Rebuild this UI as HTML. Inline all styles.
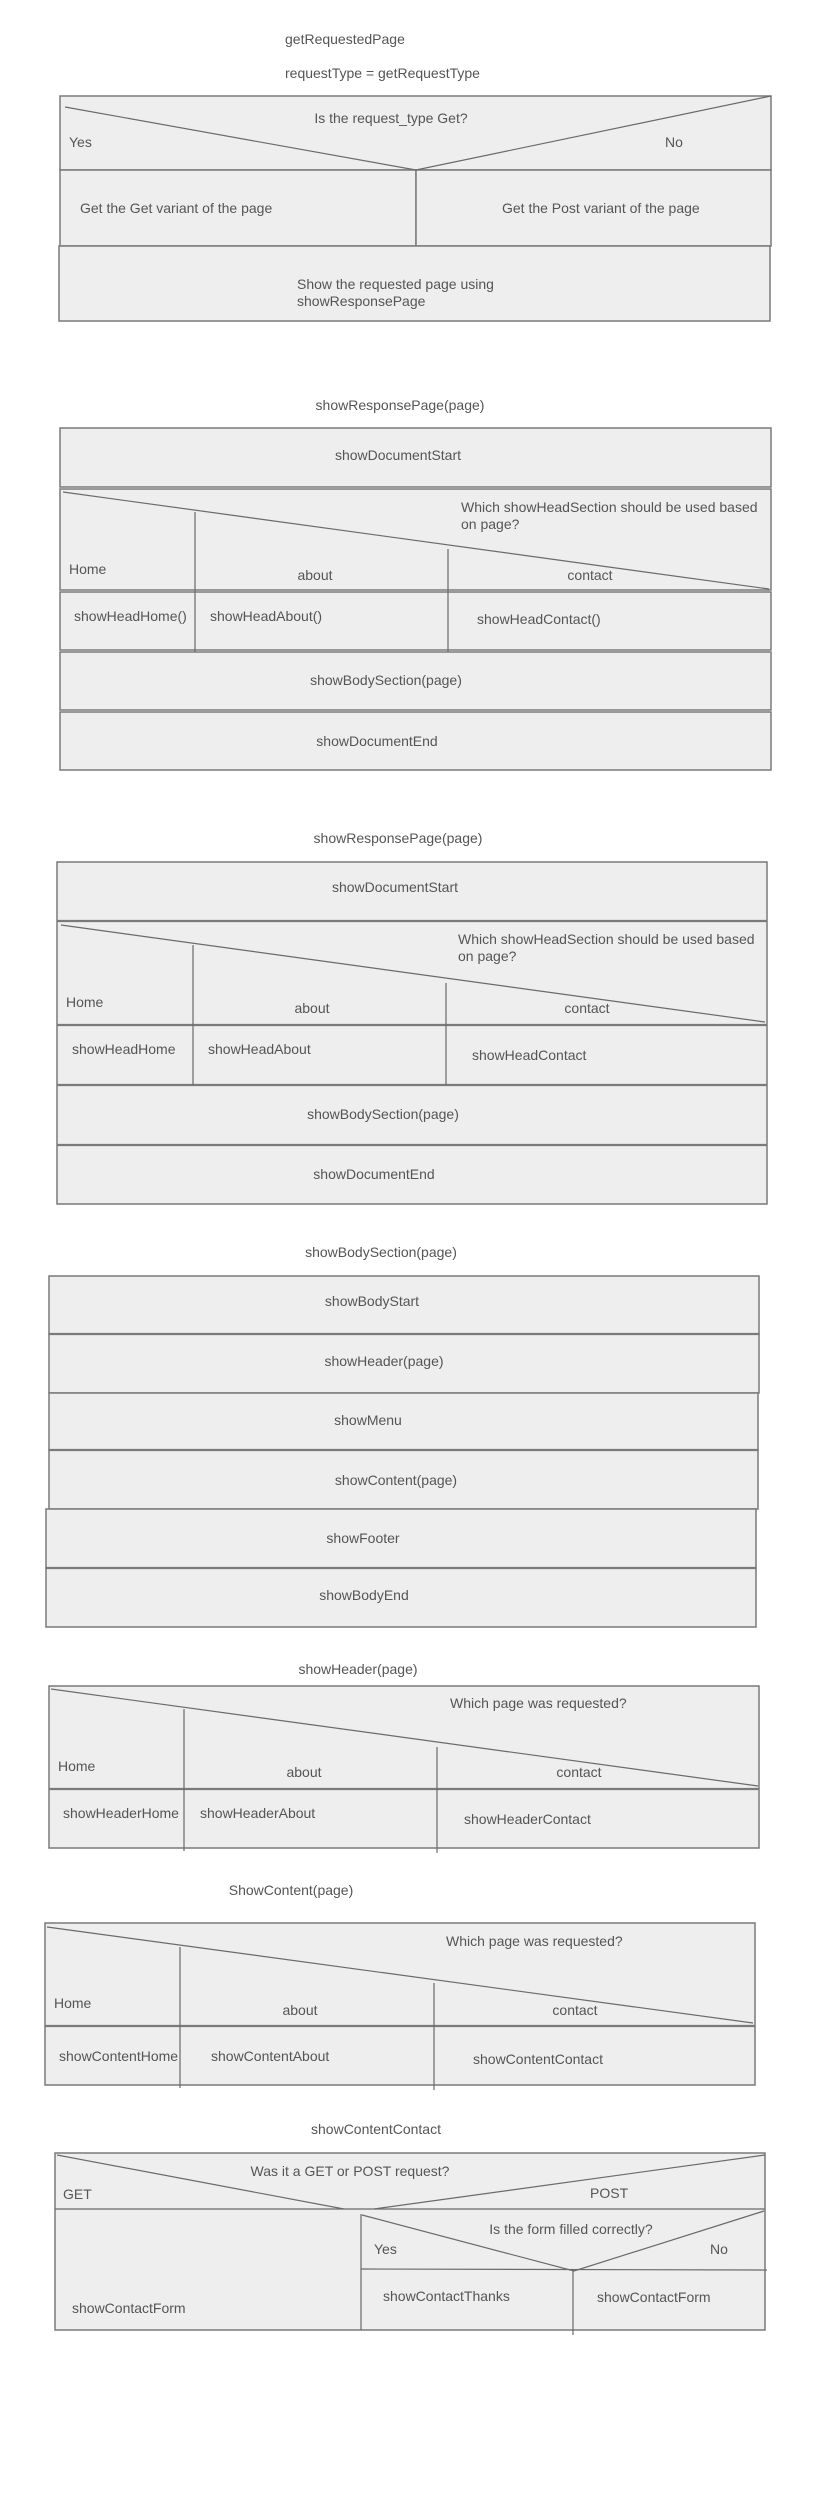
<!DOCTYPE html>
<html><head><meta charset="utf-8"><style>
html,body{margin:0;padding:0;background:#fff;}
svg{display:block;}
text{font-family:"Liberation Sans",sans-serif;font-size:14px;fill:#555;dominant-baseline:central;}
.b{fill:#eeeeee;stroke:#7a7a7a;stroke-width:1.5;}
.l{stroke:#6a6a6a;stroke-width:1.2;fill:none;}
.t{stroke:#7a7a7a;stroke-width:2.2;fill:none;}
</style></head><body>
<svg width="833" height="2500" viewBox="0 0 833 2500" xmlns="http://www.w3.org/2000/svg">
<!-- Diagram 1 -->
<text x="285" y="39">getRequestedPage</text>
<text x="285" y="73">requestType = getRequestType</text>
<rect class="b" x="60" y="96" width="711" height="74"/>
<rect class="b" x="60" y="170" width="356" height="76"/>
<rect class="b" x="416" y="170" width="355" height="76"/>
<rect class="b" x="59" y="246" width="711" height="75"/>
<polyline class="l" points="65,107 416,170 771,96"/>
<text x="391" y="118" text-anchor="middle">Is the request_type Get?</text>
<text x="69" y="142">Yes</text>
<text x="665" y="142">No</text>
<text x="80" y="208">Get the Get variant of the page</text>
<text x="502" y="208">Get the Post variant of the page</text>
<text x="297" y="284">Show the requested page using</text>
<text x="297" y="301">showResponsePage</text>

<!-- Diagram 2 -->
<text x="400" y="405" text-anchor="middle">showResponsePage(page)</text>
<rect class="b" x="60" y="428" width="711" height="59"/>
<rect class="b" x="60" y="489" width="711" height="101"/>
<rect class="b" x="60" y="592" width="711" height="58"/>
<rect class="b" x="60" y="652" width="711" height="58"/>
<rect class="b" x="60" y="712" width="711" height="58"/>
<line class="l" x1="63" y1="492" x2="769" y2="589"/>
<line class="l" x1="195" y1="512" x2="195" y2="652"/>
<line class="l" x1="448" y1="549" x2="448" y2="652"/>
<text x="461" y="507">Which showHeadSection should be used based</text>
<text x="461" y="524">on page?</text>
<text x="69" y="569">Home</text>
<text x="315" y="575" text-anchor="middle">about</text>
<text x="590" y="575" text-anchor="middle">contact</text>
<text x="74" y="616">showHeadHome()</text>
<text x="210" y="616">showHeadAbout()</text>
<text x="477" y="619">showHeadContact()</text>
<text x="386" y="680" text-anchor="middle">showBodySection(page)</text>
<text x="377" y="741" text-anchor="middle">showDocumentEnd</text>
<text x="398" y="455" text-anchor="middle">showDocumentStart</text>

<!-- Diagram 3 -->
<text x="398" y="838" text-anchor="middle">showResponsePage(page)</text>
<rect class="b" x="57" y="862" width="710" height="342"/>
<line class="t" x1="57" y1="921" x2="767" y2="921"/>
<line class="t" x1="57" y1="1025" x2="767" y2="1025"/>
<line class="t" x1="57" y1="1085" x2="767" y2="1085"/>
<line class="t" x1="57" y1="1145" x2="767" y2="1145"/>
<line class="l" x1="61" y1="925" x2="765" y2="1022"/>
<line class="l" x1="193" y1="945" x2="193" y2="1085"/>
<line class="l" x1="446" y1="983" x2="446" y2="1085"/>
<text x="395" y="887" text-anchor="middle">showDocumentStart</text>
<text x="458" y="939">Which showHeadSection should be used based</text>
<text x="458" y="956">on page?</text>
<text x="66" y="1002">Home</text>
<text x="312" y="1008" text-anchor="middle">about</text>
<text x="587" y="1008" text-anchor="middle">contact</text>
<text x="72" y="1049">showHeadHome</text>
<text x="208" y="1049">showHeadAbout</text>
<text x="472" y="1055">showHeadContact</text>
<text x="383" y="1114" text-anchor="middle">showBodySection(page)</text>
<text x="374" y="1174" text-anchor="middle">showDocumentEnd</text>

<!-- Diagram 4 -->
<text x="381" y="1252" text-anchor="middle">showBodySection(page)</text>
<rect class="b" x="49" y="1276" width="710" height="58"/>
<rect class="b" x="49" y="1334" width="710" height="59"/>
<rect class="b" x="49" y="1393" width="709" height="57"/>
<rect class="b" x="49" y="1450" width="709" height="59"/>
<rect class="b" x="46" y="1509" width="710" height="59"/>
<rect class="b" x="46" y="1568" width="710" height="59"/>
<line class="t" x1="49" y1="1334" x2="759" y2="1334"/>
<line class="t" x1="49" y1="1450" x2="758" y2="1450"/>
<line class="t" x1="46" y1="1568" x2="756" y2="1568"/>
<text x="372" y="1301" text-anchor="middle">showBodyStart</text>
<text x="384" y="1361" text-anchor="middle">showHeader(page)</text>
<text x="368" y="1420" text-anchor="middle">showMenu</text>
<text x="396" y="1480" text-anchor="middle">showContent(page)</text>
<text x="363" y="1538" text-anchor="middle">showFooter</text>
<text x="364" y="1595" text-anchor="middle">showBodyEnd</text>

<!-- Diagram 5 -->
<text x="358" y="1669" text-anchor="middle">showHeader(page)</text>
<rect class="b" x="49" y="1686" width="710" height="162"/>
<line class="t" x1="49" y1="1789" x2="759" y2="1789"/>
<line class="l" x1="51" y1="1689" x2="758" y2="1786"/>
<line class="l" x1="184" y1="1709" x2="184" y2="1851"/>
<line class="l" x1="437" y1="1747" x2="437" y2="1853"/>
<text x="450" y="1703">Which page was requested?</text>
<text x="58" y="1766">Home</text>
<text x="304" y="1772" text-anchor="middle">about</text>
<text x="579" y="1772" text-anchor="middle">contact</text>
<text x="63" y="1813">showHeaderHome</text>
<text x="200" y="1813">showHeaderAbout</text>
<text x="464" y="1819">showHeaderContact</text>

<!-- Diagram 6 -->
<text x="291" y="1890" text-anchor="middle">ShowContent(page)</text>
<rect class="b" x="45" y="1923" width="710" height="162"/>
<line class="t" x1="45" y1="2026" x2="755" y2="2026"/>
<line class="l" x1="47" y1="1927" x2="753" y2="2023"/>
<line class="l" x1="180" y1="1947" x2="180" y2="2088"/>
<line class="l" x1="434" y1="1983" x2="434" y2="2090"/>
<text x="446" y="1941">Which page was requested?</text>
<text x="54" y="2003">Home</text>
<text x="300" y="2010" text-anchor="middle">about</text>
<text x="575" y="2010" text-anchor="middle">contact</text>
<text x="59" y="2056">showContentHome</text>
<text x="211" y="2056">showContentAbout</text>
<text x="473" y="2059">showContentContact</text>

<!-- Diagram 7 -->
<text x="376" y="2129" text-anchor="middle">showContentContact</text>
<rect class="b" x="55" y="2153" width="710" height="177"/>
<line class="l" x1="55" y1="2209" x2="765" y2="2209"/>
<polyline class="l" points="57,2155 344,2209"/>
<polyline class="l" points="374,2209 765,2155"/>
<text x="350" y="2171" text-anchor="middle">Was it a GET or POST request?</text>
<text x="63" y="2194">GET</text>
<text x="590" y="2193">POST</text>
<line class="l" x1="361" y1="2214" x2="361" y2="2330"/>
<polyline class="l" points="362,2215 574,2271 764,2211"/>
<line class="l" x1="361" y1="2269" x2="767" y2="2270"/>
<line class="l" x1="573" y1="2269" x2="573" y2="2335"/>
<text x="571" y="2229" text-anchor="middle">Is the form filled correctly?</text>
<text x="374" y="2249">Yes</text>
<text x="710" y="2249">No</text>
<text x="72" y="2308">showContactForm</text>
<text x="383" y="2296">showContactThanks</text>
<text x="597" y="2297">showContactForm</text>
</svg>
</body></html>
